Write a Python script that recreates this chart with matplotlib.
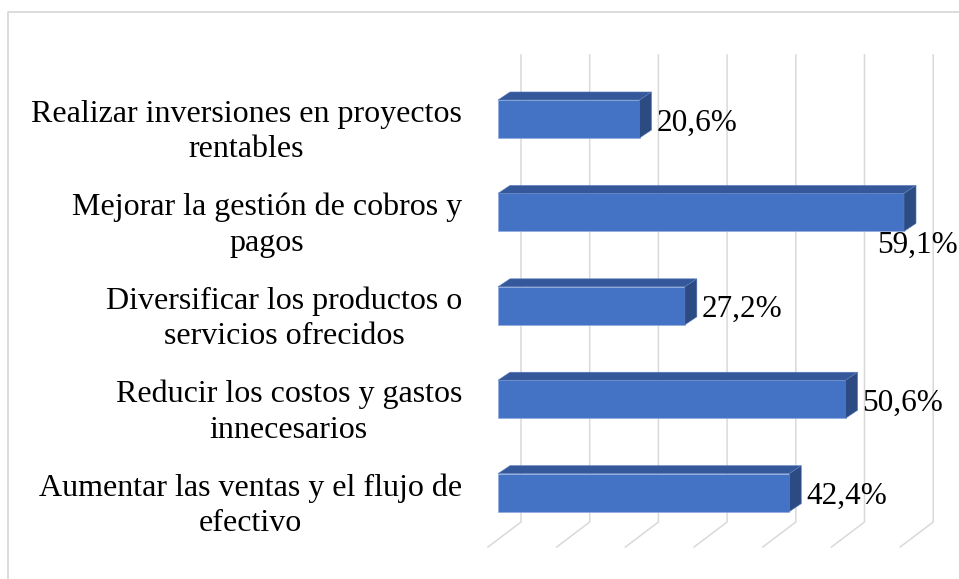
import matplotlib
matplotlib.use("Agg")
import matplotlib.pyplot as plt
import matplotlib.transforms as mtransforms
from matplotlib.patches import Polygon, Rectangle

# datos
categorias = [
    "Realizar inversiones en proyectos\nrentables",
    "Mejorar la gestión de cobros y\npagos",
    "Diversificar los productos o\nservicios ofrecidos",
    "Reducir los costos y gastos\ninnecesarios",
    "Aumentar las ventas y el flujo de\nefectivo",
]
valores = [20.6, 59.1, 27.2, 50.6, 42.4]
etiquetas = ["20,6%", "59,1%", "27,2%", "50,6%", "42,4%"]
grid_ticks = [0, 10, 20, 30, 40, 50, 60]

plt.rcParams['font.family'] = ['Liberation Serif', 'DejaVu Serif']

fig = plt.figure(figsize=(9.59, 5.79), dpi=100)
ax = fig.add_axes([498/959, 32/579, 412.2/959, 492/579])
ax.set_xlim(0, 60)
ax.set_ylim(4.582, -0.685)
ax.axis("off")

ident = mtransforms.IdentityTransform()

def px(x, y, dx=0, dy=0):
    p = ax.transData.transform((x, y))
    return (p[0] + dx, p[1] + dy)

# borde del grafico
fig.add_artist(plt.Line2D([8/959, 8/959, 1.0], [0, 1 - 12/579, 1 - 12/579],
                          transform=fig.transFigure, color="#D9D9D9", lw=1.3))

# rejilla (pared del fondo y suelo)
alto = -0.525
bajo = 4.475
for g in grid_ticks:
    a = px(g, alto, 23, 15)
    b = px(g, bajo, 23, 15)
    c = px(g, 4.582, -10, 0)
    ax.add_line(plt.Line2D([a[0], b[0], c[0]], [a[1], b[1], c[1]], transform=ident,
                           color="#D9D9D9", lw=1.1, clip_on=False, zorder=1))

# barras 3D
h = 0.407
dx, dy = 12, 8
frente = "#4472C4"
arriba = "#34589A"
lado = "#2C4B82"
for i, v in enumerate(valores):
    ax.add_patch(Rectangle((0, i - h/2), v, h, facecolor=frente, edgecolor="#8FAADC",
                           lw=0.5, zorder=3))
    tl = px(0, i - h/2)
    tr = px(v, i - h/2)
    br = px(v, i + h/2)
    top = [tl, tr, (tr[0] + dx, tr[1] + dy), (tl[0] + dx, tl[1] + dy)]
    side = [tr, br, (br[0] + dx, br[1] + dy), (tr[0] + dx, tr[1] + dy)]
    ax.add_patch(Polygon(top, closed=True, transform=ident, facecolor=arriba,
                         edgecolor="#5B7FC0", lw=0.4, clip_on=False, zorder=4))
    ax.add_patch(Polygon(side, closed=True, transform=ident, facecolor=lado,
                         edgecolor="#5B7FC0", lw=0.4, clip_on=False, zorder=4))

# etiquetas de valores
for i, (v, t) in enumerate(zip(valores, etiquetas)):
    if v > 55:
        ax.annotate(t, xy=(v, i), xytext=(54, -33), textcoords="offset pixels",
                    ha="right", va="center", fontsize=22.5, color="black",
                    annotation_clip=False, zorder=5)
    else:
        ax.annotate(t, xy=(v, i), xytext=(17, -4), textcoords="offset pixels",
                    ha="left", va="center", fontsize=22.5, color="black",
                    annotation_clip=False, zorder=5)

# etiquetas de categorias
for i, c in enumerate(categorias):
    ax.annotate(c, xy=(0, i), xytext=(-36, -13), textcoords="offset pixels",
                ha="right", va="center", multialignment="center", fontsize=23,
                color="black", linespacing=1.3, annotation_clip=False)

fig.savefig("out.png", dpi=100)
